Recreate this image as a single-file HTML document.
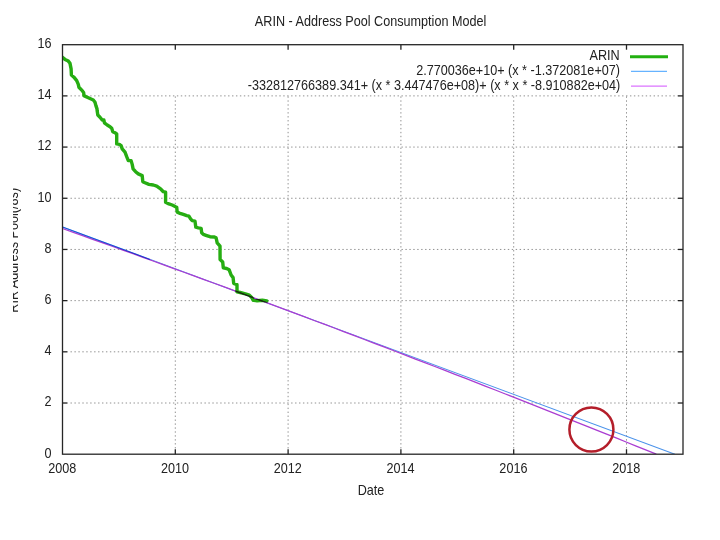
<!DOCTYPE html>
<html><head><meta charset="utf-8"><title>ARIN - Address Pool Consumption Model</title>
<style>html,body{margin:0;padding:0;background:#fff;}svg{display:block;}</style></head>
<body><svg width="720" height="540" viewBox="0 0 720 540">
<rect x="0" y="0" width="720" height="540" fill="#fff"/>
<line x1="70.5" y1="403.01" x2="678.0" y2="403.01" stroke="#909090" stroke-width="1" stroke-dasharray="1.4 2.54" fill="none"/>
<line x1="70.5" y1="351.82" x2="678.0" y2="351.82" stroke="#909090" stroke-width="1" stroke-dasharray="1.4 2.54" fill="none"/>
<line x1="70.5" y1="300.64" x2="678.0" y2="300.64" stroke="#909090" stroke-width="1" stroke-dasharray="1.4 2.54" fill="none"/>
<line x1="70.5" y1="249.45" x2="678.0" y2="249.45" stroke="#909090" stroke-width="1" stroke-dasharray="1.4 2.54" fill="none"/>
<line x1="70.5" y1="198.26" x2="678.0" y2="198.26" stroke="#909090" stroke-width="1" stroke-dasharray="1.4 2.54" fill="none"/>
<line x1="70.5" y1="147.07" x2="678.0" y2="147.07" stroke="#909090" stroke-width="1" stroke-dasharray="1.4 2.54" fill="none"/>
<line x1="70.5" y1="95.89" x2="678.0" y2="95.89" stroke="#909090" stroke-width="1" stroke-dasharray="1.4 2.54" fill="none"/>
<line x1="175.30" y1="96.4" x2="175.30" y2="449.2" stroke="#909090" stroke-width="1" stroke-dasharray="1.4 2.54" fill="none"/>
<line x1="288.10" y1="96.4" x2="288.10" y2="449.2" stroke="#909090" stroke-width="1" stroke-dasharray="1.4 2.54" fill="none"/>
<line x1="400.90" y1="96.4" x2="400.90" y2="449.2" stroke="#909090" stroke-width="1" stroke-dasharray="1.4 2.54" fill="none"/>
<line x1="513.70" y1="96.4" x2="513.70" y2="449.2" stroke="#909090" stroke-width="1" stroke-dasharray="1.4 2.54" fill="none"/>
<line x1="626.50" y1="96.4" x2="626.50" y2="449.2" stroke="#909090" stroke-width="1" stroke-dasharray="1.4 2.54" fill="none"/>
<line x1="62.5" y1="403.01" x2="67.5" y2="403.01" stroke="#222" stroke-width="1.3"/>
<line x1="678.0" y1="403.01" x2="683.0" y2="403.01" stroke="#222" stroke-width="1.3"/>
<line x1="62.5" y1="351.82" x2="67.5" y2="351.82" stroke="#222" stroke-width="1.3"/>
<line x1="678.0" y1="351.82" x2="683.0" y2="351.82" stroke="#222" stroke-width="1.3"/>
<line x1="62.5" y1="300.64" x2="67.5" y2="300.64" stroke="#222" stroke-width="1.3"/>
<line x1="678.0" y1="300.64" x2="683.0" y2="300.64" stroke="#222" stroke-width="1.3"/>
<line x1="62.5" y1="249.45" x2="67.5" y2="249.45" stroke="#222" stroke-width="1.3"/>
<line x1="678.0" y1="249.45" x2="683.0" y2="249.45" stroke="#222" stroke-width="1.3"/>
<line x1="62.5" y1="198.26" x2="67.5" y2="198.26" stroke="#222" stroke-width="1.3"/>
<line x1="678.0" y1="198.26" x2="683.0" y2="198.26" stroke="#222" stroke-width="1.3"/>
<line x1="62.5" y1="147.07" x2="67.5" y2="147.07" stroke="#222" stroke-width="1.3"/>
<line x1="678.0" y1="147.07" x2="683.0" y2="147.07" stroke="#222" stroke-width="1.3"/>
<line x1="62.5" y1="95.89" x2="67.5" y2="95.89" stroke="#222" stroke-width="1.3"/>
<line x1="678.0" y1="95.89" x2="683.0" y2="95.89" stroke="#222" stroke-width="1.3"/>
<line x1="175.30" y1="454.2" x2="175.30" y2="449.2" stroke="#222" stroke-width="1.3"/>
<line x1="175.30" y1="44.7" x2="175.30" y2="49.7" stroke="#222" stroke-width="1.3"/>
<line x1="288.10" y1="454.2" x2="288.10" y2="449.2" stroke="#222" stroke-width="1.3"/>
<line x1="288.10" y1="44.7" x2="288.10" y2="49.7" stroke="#222" stroke-width="1.3"/>
<line x1="400.90" y1="454.2" x2="400.90" y2="449.2" stroke="#222" stroke-width="1.3"/>
<line x1="400.90" y1="44.7" x2="400.90" y2="49.7" stroke="#222" stroke-width="1.3"/>
<line x1="513.70" y1="454.2" x2="513.70" y2="449.2" stroke="#222" stroke-width="1.3"/>
<line x1="513.70" y1="44.7" x2="513.70" y2="49.7" stroke="#222" stroke-width="1.3"/>
<line x1="626.50" y1="454.2" x2="626.50" y2="449.2" stroke="#222" stroke-width="1.3"/>
<line x1="626.50" y1="44.7" x2="626.50" y2="49.7" stroke="#222" stroke-width="1.3"/>
<clipPath id="pc"><rect x="62.5" y="44.7" width="620.5" height="409.5"/></clipPath>
<g clip-path="url(#pc)">
<polyline points="62.2,57.2 65.0,59.4 68.3,61.1 70.0,63.3 71.1,68.9 71.4,75.0 73.9,77.2 76.7,80.6 78.3,84.4 78.9,87.2 82.2,90.6 83.7,92.8 83.9,95.6 87.2,97.2 93.3,100.0 95.0,102.2 95.9,105.6 97.0,108.9 97.2,111.1 97.8,115.0 100.0,117.2 102.2,120.0 103.9,120.0 104.4,122.8 107.2,125.0 110.0,126.7 111.7,128.3 112.8,131.7 115.0,132.8 116.7,133.9 116.7,143.9 119.4,144.4 121.1,145.6 122.2,148.9 125.0,152.2 126.7,156.7 128.3,160.6 131.1,160.6 132.2,164.4 133.1,168.9 135.6,171.7 138.3,173.9 142.2,175.6 142.8,181.7 145.0,182.8 148.9,184.4 153.3,185.0 156.7,186.1 160.6,188.9 163.3,191.7 165.6,192.2 165.6,202.2 168.9,203.9 172.2,205.0 175.6,206.7 176.7,207.2 177.2,212.2 180.0,213.3 183.3,214.4 186.7,215.6 188.9,216.1 190.6,218.9 192.2,220.6 195.0,221.1 195.8,227.2 198.3,227.8 201.1,228.3 201.7,232.8 203.3,234.4 206.7,235.6 210.0,236.7 214.4,237.0 216.1,237.8 217.2,242.8 220.0,246.1 220.1,259.5 222.7,262.0 223.3,267.9 226.6,268.5 229.2,269.8 231.1,275.0 233.1,277.6 233.7,283.4 237.0,284.7 237.0,291.9 240.2,292.5 245.4,293.8 249.3,295.1 251.9,297.7 253.2,300.3 257.1,300.7 262.3,300.3 266.8,301.0" stroke="#26ad12" stroke-width="3.4" fill="none" stroke-linejoin="round" stroke-linecap="round"/>
<g style="mix-blend-mode:multiply">
<polyline points="62.5,226.9 674.9,454.2" stroke="#4a92ea" stroke-width="1.1" fill="none"/>
<polyline points="62.5,228.5 72.6,232.1 82.6,235.7 92.7,239.3 102.8,242.9 112.8,246.5 122.9,250.1 133.0,253.7 143.0,257.3 153.1,261.0 163.1,264.6 173.2,268.3 183.3,272.0 193.3,275.6 203.4,279.3 213.5,283.0 223.5,286.7 233.6,290.4 243.7,294.2 253.7,297.9 263.8,301.6 273.9,305.4 283.9,309.1 294.0,312.9 304.1,316.7 314.1,320.5 324.2,324.2 334.3,328.0 344.3,331.9 354.4,335.7 364.4,339.5 374.5,343.3 384.6,347.2 394.6,351.0 404.7,354.9 414.8,358.8 424.8,362.6 434.9,366.5 445.0,370.4 455.0,374.3 465.1,378.2 475.2,382.1 485.2,386.1 495.3,390.0 505.4,394.0 515.4,397.9 525.5,401.9 535.6,405.9 545.6,409.8 555.7,413.8 565.7,417.8 575.8,421.8 585.9,425.8 595.9,429.9 606.0,433.9 616.1,437.9 626.1,442.0 636.2,446.1 646.3,450.1 656.3,454.2" stroke="#aa3ed2" stroke-width="1.3" fill="none"/>
<line x1="62.5" y1="226.94" x2="150" y2="259.41" stroke="#4a92ea" stroke-width="1.1" style="mix-blend-mode:multiply"/>
</g>
</g>
<rect x="62.5" y="44.7" width="620.5" height="409.5" fill="none" stroke="#262626" stroke-width="1.3"/>
<circle cx="591.4" cy="429.5" r="22" fill="none" stroke="#b41e2a" stroke-width="2.5"/>
<text transform="translate(51.60,457.60) scale(0.915,1)" text-anchor="end" font-family="Liberation Sans, Arial, sans-serif" fill="#222" font-size="13.8">0</text>
<text transform="translate(51.60,406.41) scale(0.915,1)" text-anchor="end" font-family="Liberation Sans, Arial, sans-serif" fill="#222" font-size="13.8">2</text>
<text transform="translate(51.60,355.22) scale(0.915,1)" text-anchor="end" font-family="Liberation Sans, Arial, sans-serif" fill="#222" font-size="13.8">4</text>
<text transform="translate(51.60,304.04) scale(0.915,1)" text-anchor="end" font-family="Liberation Sans, Arial, sans-serif" fill="#222" font-size="13.8">6</text>
<text transform="translate(51.60,252.85) scale(0.915,1)" text-anchor="end" font-family="Liberation Sans, Arial, sans-serif" fill="#222" font-size="13.8">8</text>
<text transform="translate(51.60,201.66) scale(0.915,1)" text-anchor="end" font-family="Liberation Sans, Arial, sans-serif" fill="#222" font-size="13.8">10</text>
<text transform="translate(51.60,150.47) scale(0.915,1)" text-anchor="end" font-family="Liberation Sans, Arial, sans-serif" fill="#222" font-size="13.8">12</text>
<text transform="translate(51.60,99.29) scale(0.915,1)" text-anchor="end" font-family="Liberation Sans, Arial, sans-serif" fill="#222" font-size="13.8">14</text>
<text transform="translate(51.60,48.10) scale(0.915,1)" text-anchor="end" font-family="Liberation Sans, Arial, sans-serif" fill="#222" font-size="13.8">16</text>
<text transform="translate(62.20,472.90) scale(0.915,1)" text-anchor="middle" font-family="Liberation Sans, Arial, sans-serif" fill="#222" font-size="13.8">2008</text>
<text transform="translate(175.00,472.90) scale(0.915,1)" text-anchor="middle" font-family="Liberation Sans, Arial, sans-serif" fill="#222" font-size="13.8">2010</text>
<text transform="translate(287.80,472.90) scale(0.915,1)" text-anchor="middle" font-family="Liberation Sans, Arial, sans-serif" fill="#222" font-size="13.8">2012</text>
<text transform="translate(400.60,472.90) scale(0.915,1)" text-anchor="middle" font-family="Liberation Sans, Arial, sans-serif" fill="#222" font-size="13.8">2014</text>
<text transform="translate(513.40,472.90) scale(0.915,1)" text-anchor="middle" font-family="Liberation Sans, Arial, sans-serif" fill="#222" font-size="13.8">2016</text>
<text transform="translate(626.20,472.90) scale(0.915,1)" text-anchor="middle" font-family="Liberation Sans, Arial, sans-serif" fill="#222" font-size="13.8">2018</text>
<text transform="translate(371.00,494.60) scale(0.915,1)" text-anchor="middle" font-family="Liberation Sans, Arial, sans-serif" fill="#222" font-size="13.8">Date</text>
<text transform="translate(370.60,25.60) scale(0.915,1)" text-anchor="middle" font-family="Liberation Sans, Arial, sans-serif" fill="#222" font-size="13.8">ARIN - Address Pool Consumption Model</text>
<text transform="translate(619.80,59.90) scale(0.92,1)" text-anchor="end" font-family="Liberation Sans, Arial, sans-serif" fill="#222" font-size="13.8">ARIN</text>
<text transform="translate(620.00,75.00) scale(0.915,1)" text-anchor="end" font-family="Liberation Sans, Arial, sans-serif" fill="#222" font-size="13.8">2.770036e+10+ (x * -1.372081e+07)</text>
<text transform="translate(620.30,89.80) scale(0.915,1)" text-anchor="end" font-family="Liberation Sans, Arial, sans-serif" fill="#222" font-size="13.8">-332812766389.341+ (x * 3.447476e+08)+ (x * x * -8.910882e+04)</text>
<line x1="630" y1="56.7" x2="668" y2="56.7" stroke="#22b010" stroke-width="3"/>
<line x1="631" y1="71.4" x2="667" y2="71.4" stroke="#0080ff" stroke-width="1.2" stroke-opacity="0.6"/>
<line x1="631" y1="86.2" x2="667" y2="86.2" stroke="#c000ff" stroke-width="1.2" stroke-opacity="0.55"/>
<clipPath id="cl"><rect x="13" y="0" width="30" height="540"/></clipPath>
<g clip-path="url(#cl)"><text transform="translate(17.8,250.3) rotate(-90) scale(0.915,1)" text-anchor="middle" font-family="Liberation Sans, Arial, sans-serif" fill="#222" font-size="13.8">RIR Address Pool(/8s)</text></g>
</svg></body></html>
